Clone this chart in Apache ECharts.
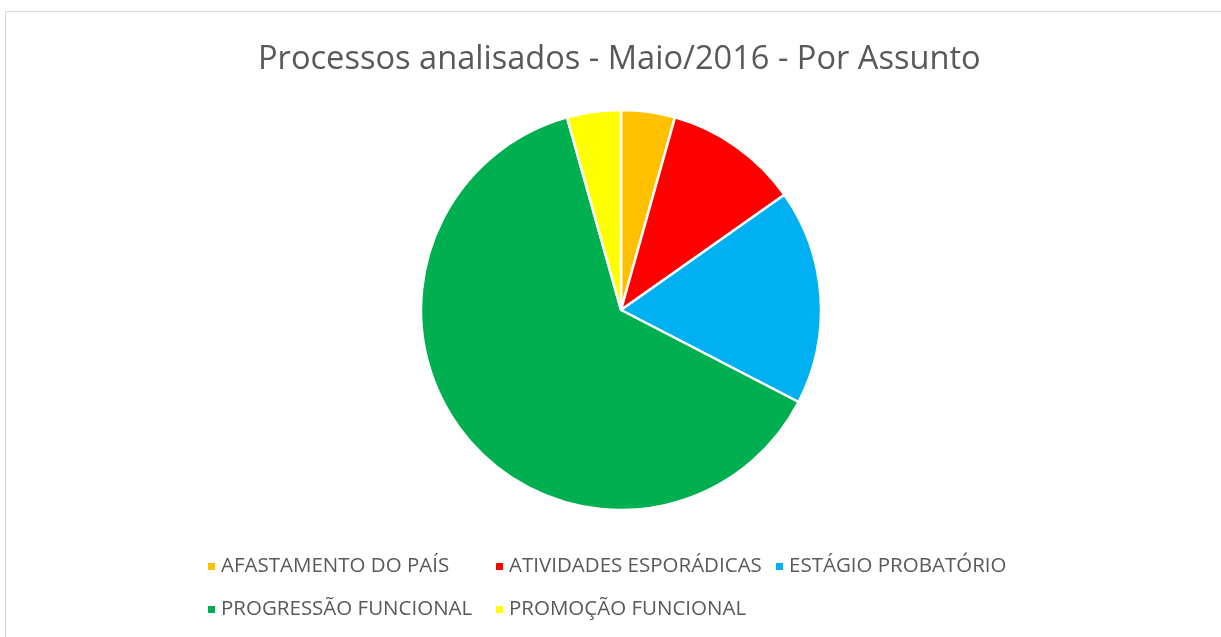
<!DOCTYPE html>
<html>
<head>
<meta charset="utf-8">
<script src="https://cdn.jsdelivr.net/npm/echarts@6/dist/echarts.min.js"></script>
<style>
  html, body { margin: 0; padding: 0; background: #fff; }
  #frame { position: absolute; left: 5px; top: 11px; width: 1216px; height: 626px;
           border-left: 1px solid #d9d9d9; border-top: 1px solid #d9d9d9; }
  #chart { position: absolute; left: 0; top: 0; width: 1221px; height: 637px; }
</style>
</head>
<body>
<div id="frame"></div>
<div id="chart"></div>
<script>
// Subjects and number of processes
const subjects = ['AFASTAMENTO DO PAÍS', 'ATIVIDADES ESPORÁDICAS', 'ESTÁGIO PROBATÓRIO', 'PROGRESSÃO FUNCIONAL', 'PROMOÇÃO FUNCIONAL']
const counts = [2, 5, 8, 29, 2]
const colors = ['#FFC000', '#FF0000', '#00B0F0', '#00B050', '#FFFF00']

// legend columns, like the Excel layout
const legendColumns = [
  [subjects[0], subjects[3]],
  [subjects[1], subjects[4]],
  [subjects[2]]
]
const columnLeft = [201, 489, 769]

const font = '"Open Sans", sans-serif'

const chart = echarts.init(document.getElementById('chart'))

chart.setOption({
  animation: false,
  color: colors,
  title: {
    text: 'Processos analisados - Maio/2016 - Por Assunto',
    left: 253,
    top: 38,
    textStyle: { color: '#595959', fontSize: 32.6, fontWeight: 'normal', fontFamily: font }
  },
  legend: legendColumns.map((items, i) => ({
    left: columnLeft[i],
    top: 551,
    orient: 'vertical',
    icon: 'rect',
    itemWidth: 9,
    itemHeight: 9,
    itemGap: 22,
    data: items,
    textStyle: { color: '#595959', fontSize: 20.5, fontFamily: font }
  })),
  series: [{
    type: 'pie',
    center: [621, 310],
    radius: 200,
    startAngle: 90,
    clockwise: true,
    label: { show: false },
    labelLine: { show: false },
    emphasis: { disabled: true },
    itemStyle: { borderColor: '#fff', borderWidth: 2.5 },
    data: subjects.map((name, i) => ({ name, value: counts[i] }))
  }]
})
</script>
</body>
</html>
